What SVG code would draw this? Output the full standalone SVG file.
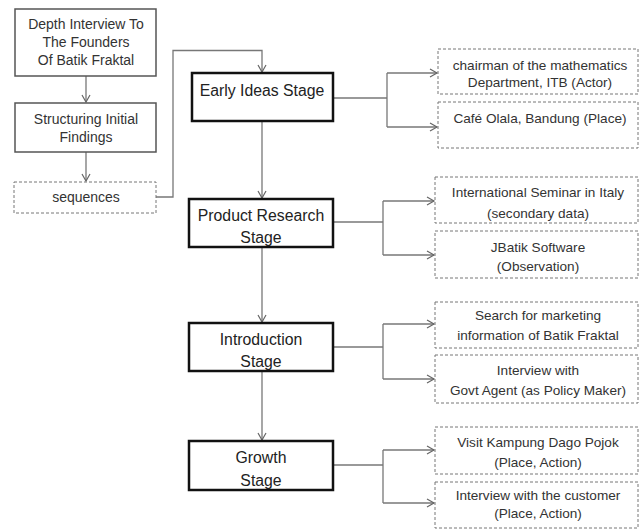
<svg xmlns="http://www.w3.org/2000/svg" width="641" height="529" viewBox="0 0 641 529">
<defs>
<marker id="arr" markerWidth="10" markerHeight="10" refX="8" refY="5" orient="auto" markerUnits="userSpaceOnUse">
<path d="M1,1 L8,5 L1,9" fill="none" stroke="#666" stroke-width="1.2"/>
</marker>
<style>
text{font-family:"Liberation Sans",Arial,sans-serif;fill:#333;text-anchor:middle;}
.t{font-size:14px;}
.s{font-size:15.8px;fill:#222;}
.d{font-size:13.6px;}
.solid{fill:#fff;stroke:#555;stroke-width:1.5;}
.stage{fill:#fff;stroke:#111;stroke-width:2.5;}
.dash{fill:#fff;stroke:#777;stroke-width:1;stroke-dasharray:3,2;}
.c{fill:none;stroke:#777;stroke-width:1.3;}
</style>
</defs>
<rect width="641" height="529" fill="#fff"/>
<g id="connectors">
<path class="c" d="M86,76 V102" marker-end="url(#arr)"/>
<path class="c" d="M86,152 V181" marker-end="url(#arr)"/>
<path class="c" d="M156,197 H173 V50.5 H262 V72" marker-end="url(#arr)"/>
<path class="c" d="M262,121 V198" marker-end="url(#arr)"/>
<path class="c" d="M262,247 V322" marker-end="url(#arr)"/>
<path class="c" d="M262,371 V440" marker-end="url(#arr)"/>
<path class="c" d="M333,98 H387"/>
<path class="c" d="M387,73 V127"/>
<path class="c" d="M387,73 H437" marker-end="url(#arr)"/>
<path class="c" d="M387,127 H437" marker-end="url(#arr)"/>
<path class="c" d="M333,222 H383"/>
<path class="c" d="M383,201 V255"/>
<path class="c" d="M383,201 H434" marker-end="url(#arr)"/>
<path class="c" d="M383,255 H434" marker-end="url(#arr)"/>
<path class="c" d="M333,347 H383"/>
<path class="c" d="M383,324 V379"/>
<path class="c" d="M383,324 H434" marker-end="url(#arr)"/>
<path class="c" d="M383,379 H434" marker-end="url(#arr)"/>
<path class="c" d="M333,465 H383"/>
<path class="c" d="M383,450 V503"/>
<path class="c" d="M383,450 H434" marker-end="url(#arr)"/>
<path class="c" d="M383,503 H434" marker-end="url(#arr)"/>
</g>
<g id="depth-interview">
<rect class="solid" x="15" y="9" width="141" height="67"/>
<text class="t" x="86" y="29">Depth Interview To</text>
<text class="t" x="86" y="47">The Founders</text>
<text class="t" x="86" y="65">Of Batik Fraktal</text>
</g>
<g id="structuring">
<rect class="solid" x="15" y="103" width="141" height="49"/>
<text class="t" x="86" y="124">Structuring Initial</text>
<text class="t" x="86" y="142">Findings</text>
</g>
<g id="sequences">
<rect class="dash" x="14" y="182" width="142" height="31"/>
<text class="t" x="86" y="202">sequences</text>
</g>
<g id="early-ideas">
<rect class="stage" x="192" y="73" width="141" height="48"/>
<text class="s" x="262" y="96">Early Ideas Stage</text>
</g>
<g id="product-research">
<rect class="stage" x="189" y="199" width="144" height="48"/>
<text class="s" x="261" y="221">Product Research</text>
<text class="s" x="261" y="243">Stage</text>
</g>
<g id="introduction">
<rect class="stage" x="189" y="323" width="144" height="48"/>
<text class="s" x="261" y="345">Introduction</text>
<text class="s" x="261" y="367">Stage</text>
</g>
<g id="growth">
<rect class="stage" x="189" y="441" width="144" height="49"/>
<text class="s" x="261" y="463">Growth</text>
<text class="s" x="261" y="486">Stage</text>
</g>
<g id="chairman">
<rect class="dash" x="438" y="49" width="200" height="45"/>
<text class="d" x="540" y="70">chairman of the mathematics</text>
<text class="d" x="540" y="87">Department, ITB (Actor)</text>
</g>
<g id="cafe">
<rect class="dash" x="438" y="102" width="200" height="46"/>
<text class="d" x="540" y="123">Café Olala, Bandung (Place)</text>
</g>
<g id="seminar">
<rect class="dash" x="435" y="177" width="203" height="46"/>
<text class="d" x="538" y="197">International Seminar in Italy</text>
<text class="d" x="538" y="218">(secondary data)</text>
</g>
<g id="jbatik">
<rect class="dash" x="435" y="231" width="203" height="47"/>
<text class="d" x="538" y="252">JBatik Software</text>
<text class="d" x="538" y="271">(Observation)</text>
</g>
<g id="marketing">
<rect class="dash" x="435" y="302" width="203" height="46"/>
<text class="d" x="538" y="320">Search for marketing</text>
<text class="d" x="538" y="340">information of Batik Fraktal</text>
</g>
<g id="govt">
<rect class="dash" x="435" y="355" width="203" height="48"/>
<text class="d" x="538" y="375">Interview with</text>
<text class="d" x="538" y="395">Govt Agent (as Policy Maker)</text>
</g>
<g id="kampung">
<rect class="dash" x="435" y="427" width="203" height="47"/>
<text class="d" x="538" y="447">Visit Kampung Dago Pojok</text>
<text class="d" x="538" y="467">(Place, Action)</text>
</g>
<g id="customer">
<rect class="dash" x="435" y="482" width="203" height="46"/>
<text class="d" x="538" y="500">Interview with the customer</text>
<text class="d" x="538" y="518">(Place, Action)</text>
</g>
</svg>
